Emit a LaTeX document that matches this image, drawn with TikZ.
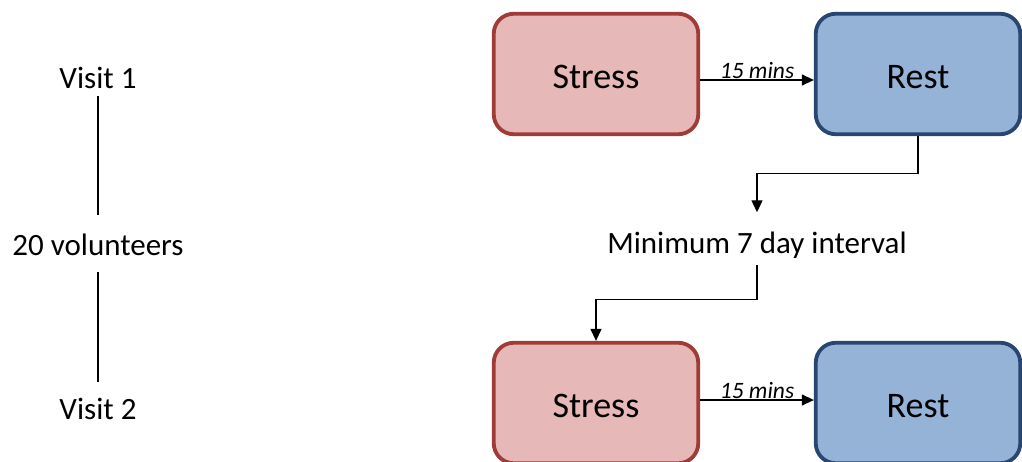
\documentclass[tikz,border=0pt]{standalone}
\usepackage{fontspec}
\setmainfont{Carlito}
\usetikzlibrary{arrows.meta}
\definecolor{stressfill}{HTML}{E6B8B7}
\definecolor{stressdraw}{HTML}{A03B38}
\definecolor{restfill}{HTML}{95B3D7}
\definecolor{restdraw}{HTML}{284670}
\begin{document}
\begin{tikzpicture}[x=1pt,y=-1pt,
 box/.style={rounded corners=20pt, line width=3.8pt, minimum width=204.5pt, minimum height=120.5pt, inner sep=0pt, text height=28pt, text depth=0pt, font=\fontsize{36}{43}\selectfont},
 stressbox/.style={box, fill=stressfill, draw=stressdraw},
 restbox/.style={box, fill=restfill, draw=restdraw},
 lbl/.style={inner sep=0pt, anchor=base, font=\fontsize{31}{37}\selectfont},
 arr/.style={line width=1.3pt, -{Triangle[length=12pt,width=11pt]}},
 plainline/.style={line width=1.3pt},
 mins/.style={inner sep=0pt, anchor=base, yshift=2pt, font=\fontsize{23.5}{28}\selectfont\itshape}]
\useasboundingbox (0,0) rectangle (1022,461);
\clip (0,0) rectangle (1022,461);
% boxes
\node[stressbox] (s1) at (596,74) {Stress};
\node[restbox]   (r1) at (918,74) {Rest};
\node[stressbox] (s2) at (596,403) {Stress};
\node[restbox]   (r2) at (918,403) {Rest};
% middle label
\node[lbl] (mid) at (757,253) {Minimum 7 day interval};
% left labels
\node[lbl] (v1) at (98,88) {Visit 1};
\node[lbl] (vol) at (98,255) {20 volunteers};
\node[lbl] (v2) at (98,419) {Visit 2};
% connectors
\draw[arr] ([yshift=-6pt]s1.east) -- node[mins] {15 mins} ([yshift=-6pt]r1.west);
\draw[arr] ([yshift=3pt]s2.east) -- node[mins] {15 mins} ([yshift=3pt]r2.west);
\draw[arr] (r1.south) -- ++(0,37) -| ([yshift=19pt]mid.north);
\draw[arr] ([yshift=-7pt]mid.south) -- ++(0,34) -| (s2.north);
\draw[plainline] ([yshift=-8pt]v1.south) -- ([yshift=18pt]vol.north);
\draw[plainline] ([yshift=-17pt]vol.south) -- ([yshift=15pt]v2.north);
\end{tikzpicture}
\end{document}
